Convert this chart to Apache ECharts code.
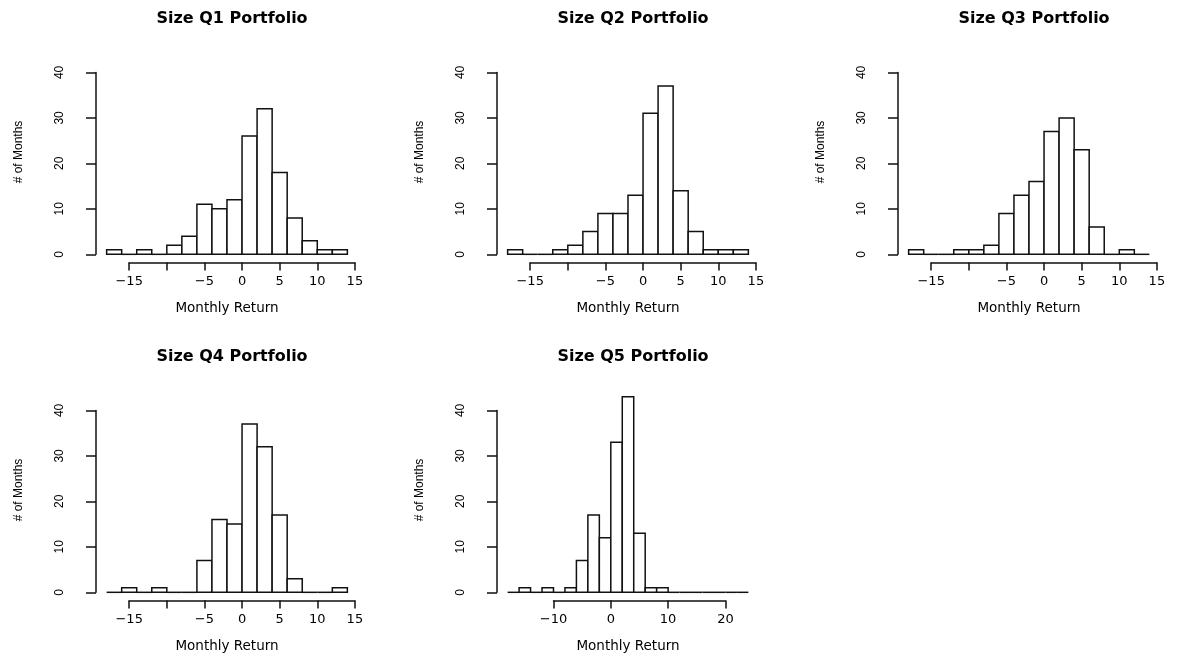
<!DOCTYPE html>
<html><head><meta charset="utf-8">
<script src="https://cdn.jsdelivr.net/npm/echarts@6/dist/echarts.min.js"></script>
<style>html,body{margin:0;padding:0;background:#fff}#c{width:1179px;height:656px}</style>
</head><body><div id="c"></div>
<script>
// ---- data ----
const panelTitles = ['Size Q1 Portfolio', 'Size Q2 Portfolio', 'Size Q3 Portfolio', 'Size Q4 Portfolio', 'Size Q5 Portfolio'];
const binWidth = 2;
const binStart = [-18, -18, -18, -18, -18];
const q1Counts = [1, 0, 1, 0, 2, 4, 11, 10, 12, 26, 32, 18, 8, 3, 1, 1];
const q2Counts = [1, 0, 0, 1, 2, 5, 9, 9, 13, 31, 37, 14, 5, 1, 1, 1];
const q3Counts = [1, 0, 0, 1, 1, 2, 9, 13, 16, 27, 30, 23, 6, 0, 1, 0];
const q4Counts = [0, 1, 0, 1, 0, 0, 7, 16, 15, 37, 32, 17, 3, 0, 0, 1];
const q5Counts = [0, 1, 0, 1, 0, 1, 7, 17, 12, 33, 43, 13, 1, 1, 0, 0, 0, 0, 0, 0, 0];
const allCounts = [q1Counts, q2Counts, q3Counts, q4Counts, q5Counts];
const xTickRange = [[-15, 15], [-15, 15], [-15, 15], [-15, 15], [-10, 20]];
const xTickStep = [5, 5, 5, 5, 10];
const xHiddenLabels = [[-10], [-10], [-10], [-10], []];
const yTickRange = [0, 40];
const yTickStep = 10;
const yLimit = [0, 45];
const xAxisTitle = 'Monthly Return';
const yAxisTitle = '# of Months';

// ---- layout ----
const panelPos = [[97, 41.5], [498, 41.5], [899, 41.5], [97, 379.5], [498, 379.5]];
const PW = 260, PH = 221;
const FONT = '"DejaVu Sans", sans-serif';
const FONT2 = '"Liberation Sans", Arial, sans-serif';
const LW = 1.5;

const grids = [], xAxes = [], yAxes = [], series = [], titles = [];
function fmtNum(v) { return v < 0 ? '\u2212' + Math.abs(v) : String(v); }

allCounts.forEach((counts, i) => {
  const [L, T] = panelPos[i];
  const b0 = binStart[i], b1 = b0 + counts.length * binWidth;
  const ext = (b1 - b0) * 0.04;
  const xmin = b0 - ext, xmax = b1 + ext;
  const yext = (yLimit[1] - yLimit[0]) * 0.04;
  const ymin = yLimit[0] - yext, ymax = yLimit[1] + yext;
  const px = v => L + (v - xmin) / (xmax - xmin) * PW;
  const py = v => T + PH - (v - ymin) / (ymax - ymin) * PH;

  // main plot grid
  const g = grids.length;
  grids.push({ left: L, top: T, width: PW, height: PH });
  xAxes.push({
    gridIndex: g, type: 'value', min: xmin, max: xmax,
    axisLine: { show: false }, axisTick: { show: false }, axisLabel: { show: false }, splitLine: { show: false },
    name: xAxisTitle, nameLocation: 'middle', nameGap: 39,
    nameTextStyle: { fontFamily: FONT, fontSize: 13.5, color: '#000' }
  });
  yAxes.push({
    gridIndex: g, type: 'value', min: ymin, max: ymax,
    axisLine: { show: false }, axisTick: { show: false }, axisLabel: { show: false }, splitLine: { show: false },
    name: yAxisTitle, nameLocation: 'middle', nameGap: 72, nameRotate: 90,
    nameTextStyle: { fontFamily: FONT2, fontSize: 12, color: '#000' }
  });
  const data = counts.map((c, k) => [b0 + k * binWidth, b0 + (k + 1) * binWidth, c]);
  series.push({
    type: 'custom', xAxisIndex: xAxes.length - 1, yAxisIndex: yAxes.length - 1,
    data: data, encode: { x: [0, 1], y: 2 }, clip: false, silent: true,
    renderItem: (params, api) => {
      const a = api.coord([api.value(0), 0]);
      const b = api.coord([api.value(1), api.value(2)]);
      if (api.value(2) === 0) {
        return { type: 'line', shape: { x1: a[0], y1: a[1], x2: b[0], y2: a[1] }, style: { stroke: '#111', lineWidth: LW } };
      }
      return { type: 'rect', shape: { x: a[0], y: b[1], width: b[0] - a[0], height: a[1] - b[1] },
        style: { fill: '#fff', stroke: '#111', lineWidth: LW } };
    }
  });

  // x axis (spans tick range only)
  const xr = xTickRange[i];
  const gx = grids.length;
  grids.push({ left: px(xr[0]), width: px(xr[1]) - px(xr[0]), top: T + PH - 1, height: 1 });
  const hidden = xHiddenLabels[i];
  xAxes.push({
    gridIndex: gx, type: 'value', min: xr[0], max: xr[1], interval: xTickStep[i],
    axisLine: { show: true, lineStyle: { color: '#111', width: LW } },
    axisTick: { show: true, length: 8, lineStyle: { color: '#111', width: LW } },
    axisLabel: { show: true, margin: 13, color: '#000', fontFamily: FONT, fontSize: 13,
      formatter: v => hidden.indexOf(v) >= 0 ? '' : fmtNum(v) },
    splitLine: { show: false }
  });
  yAxes.push({ gridIndex: gx, type: 'value', show: false, min: 0, max: 1 });

  // y axis (spans tick range only)
  const gy = grids.length;
  grids.push({ left: L - 1, width: 1, top: py(yTickRange[1]), height: py(yTickRange[0]) - py(yTickRange[1]) });
  xAxes.push({ gridIndex: gy, type: 'value', show: false, min: 0, max: 1 });
  yAxes.push({
    gridIndex: gy, type: 'value', min: yTickRange[0], max: yTickRange[1], interval: yTickStep,
    axisLine: { show: true, lineStyle: { color: '#111', width: LW } },
    axisTick: { show: true, length: 10, lineStyle: { color: '#111', width: LW } },
    axisLabel: { show: true, rotate: 90, margin: 30, color: '#000', fontFamily: FONT2, fontSize: 12 },
    splitLine: { show: false }
  });

  titles.push({
    text: panelTitles[i], left: L + PW / 2, top: T - 36, textAlign: 'center',
    textStyle: { fontFamily: FONT, fontWeight: 'bold', fontSize: 16, color: '#000' }
  });
});

const chart = echarts.init(document.getElementById('c'), null, { renderer: 'canvas' });
chart.setOption({
  backgroundColor: '#fff',
  animation: false,
  title: titles,
  grid: grids, xAxis: xAxes, yAxis: yAxes, series: series
});
</script></body></html>
